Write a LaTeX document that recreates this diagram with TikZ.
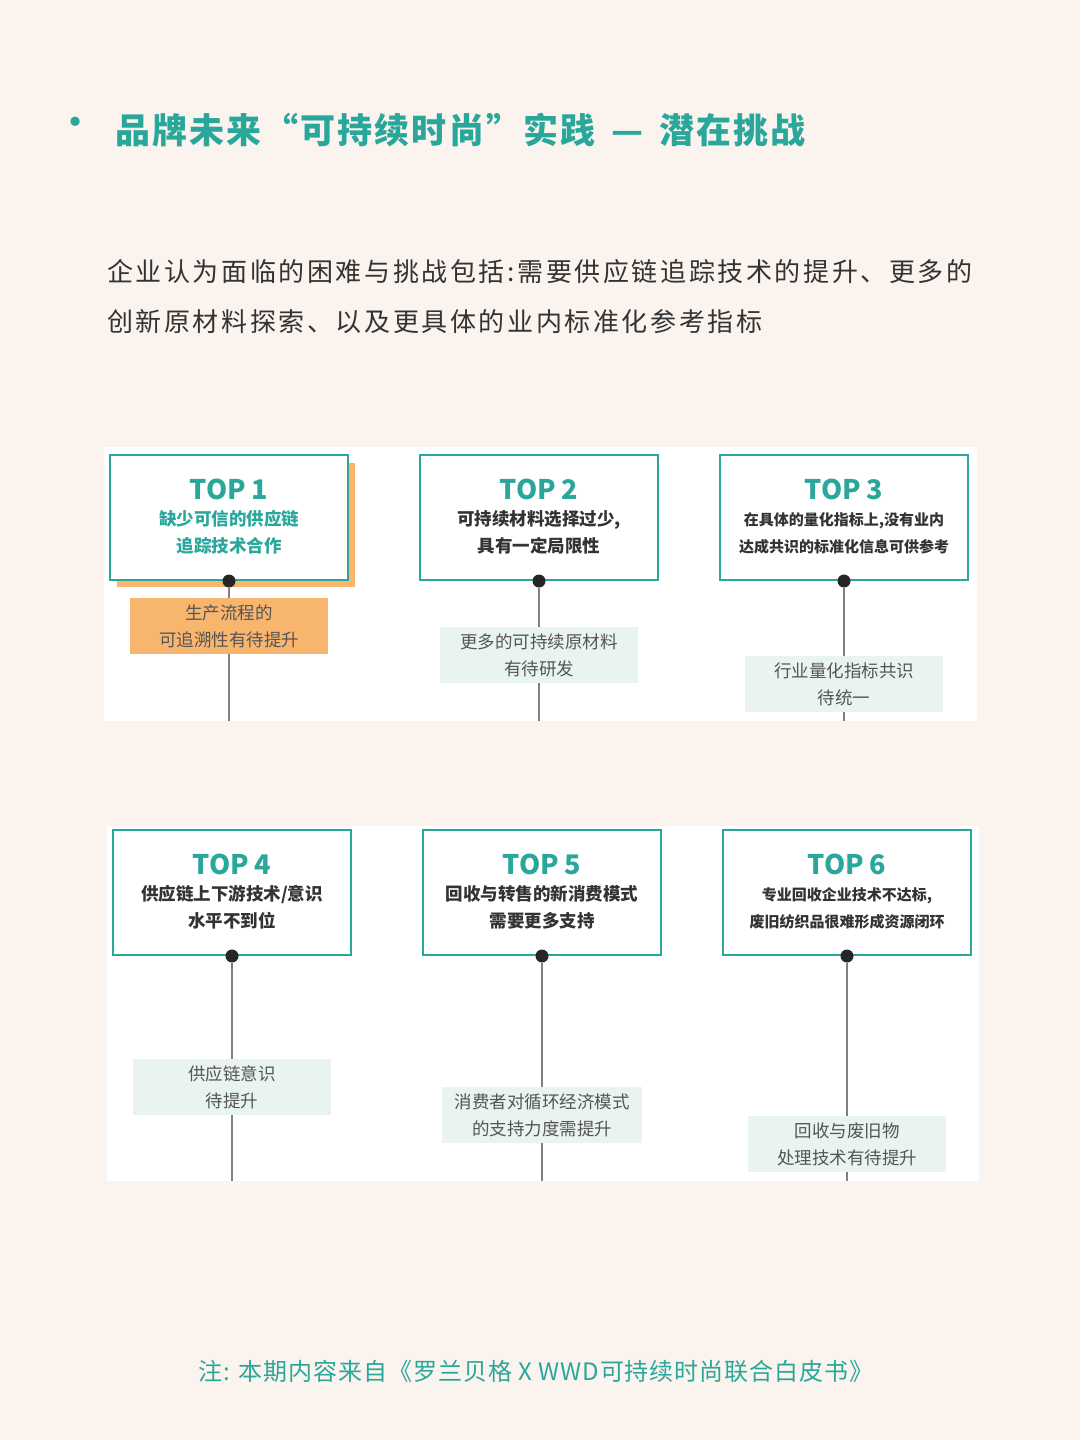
\documentclass[tikz,border=0pt]{standalone}
\usepackage{fontspec}
\setmainfont{Noto Sans CJK SC}
\definecolor{bg}{HTML}{FBF3EE}
\definecolor{teal}{HTML}{2AA79B}
\definecolor{org}{HTML}{F8B56E}
\definecolor{lt}{HTML}{E9F4F0}
\definecolor{txt}{HTML}{333333}
\definecolor{gr}{HTML}{555555}
\begin{document}
\begin{tikzpicture}[x=1pt,y=-1pt,
  topbox/.style={draw=teal,line width=2pt,fill=white},
  toptitle/.style={text=teal,font=\fontsize{27}{30}\selectfont\bfseries},
  sub/.style={text=txt,font=\fontsize{17.5}{27}\selectfont\bfseries,align=center},
  subs/.style={text=txt,font=\fontsize{15}{27}\selectfont\bfseries,align=center},
  lab/.style={text=gr,font=\fontsize{17.5}{27}\selectfont,align=center},
  dot/.style={circle,fill=black!85,inner sep=0pt,minimum size=13pt},
  vline/.style={draw=gray,line width=1.2pt}]
\fill[bg] (0,0) rectangle (1080,1440);
\useasboundingbox (0,0) rectangle (1080,1440);
\node[text=teal,font=\fontsize{44}{44}\selectfont] (bul) at (75,128) {•};
\node[anchor=west,text=teal,font=\fontsize{35}{40}\selectfont\bfseries\addfontfeature{LetterSpace=6},inner sep=0] (title) at (115,130) {品牌未来“可持续时尚”实践 \,— \,潜在挑战};
\node[anchor=west,text=txt,font=\fontsize{26}{50}\selectfont\addfontfeature{LetterSpace=10},align=left,inner sep=0] (para) at (107,297) {企业认为面临的困难与挑战包括:需要供应链追踪技术的提升、更多的\\创新原材料探索、以及更具体的业内标准化参考指标};
% panels
\fill[white] (104,447) rectangle (977,721);
\fill[white] (107,826) rectangle (979,1181);
% row 1
\fill[org] (117,463) rectangle (355,587);
\foreach \n/\x/\y/\lx/\ly/\lw/\lc in {a/229/721/229/626/198/org, b/539/721/539/655/198/lt, c/844/721/844/684/198/lt,
  d/232/1181/232/1087/198/lt, e/542/1181/542/1115/200/lt, f/847/1181/847/1144/198/lt}{
  \coordinate (e\n) at (\x,\y);
  \node[fill=\lc,minimum width=\lw pt,minimum height=56pt,inner sep=0] (l\n) at (\lx,\ly) {};
}
\node[topbox,minimum width=238pt,minimum height=125pt] (ba) at (229,517.5) {};
\node[topbox,minimum width=238pt,minimum height=125pt] (bb) at (539,517.5) {};
\node[topbox,minimum width=248pt,minimum height=125pt] (bc) at (844,517.5) {};
\node[topbox,minimum width=238pt,minimum height=125pt] (bd) at (232,892.5) {};
\node[topbox,minimum width=238pt,minimum height=125pt] (be) at (542,892.5) {};
\node[topbox,minimum width=248pt,minimum height=125pt] (bf) at (847,892.5) {};
\foreach \n in {a,b,c,d,e,f}{
  \node[dot] (d\n) at (b\n.south) {};
  \draw[vline] (d\n) -- (l\n.north);
  \draw[vline] (l\n.south) -- (e\n);
}
\node[toptitle] at (229,489) {TOP 1};
\node[sub,text=teal] at (229,532) {缺少可信的供应链\\追踪技术合作};
\node[toptitle] at (539,489) {TOP 2};
\node[sub] at (539,532) {可持续材料选择过少,\\具有一定局限性};
\node[toptitle] at (844,489) {TOP 3};
\node[subs] at (844,533) {在具体的量化指标上,没有业内\\达成共识的标准化信息可供参考};
\node[toptitle] at (232,864) {TOP 4};
\node[sub] at (232,907) {供应链上下游技术/意识\\水平不到位};
\node[toptitle] at (542,864) {TOP 5};
\node[sub] at (542,907) {回收与转售的新消费模式\\需要更多支持};
\node[toptitle] at (847,864) {TOP 6};
\node[subs] at (847,908) {专业回收企业技术不达标,\\废旧纺织品很难形成资源闭环};
\node[lab] at (la) {生产流程的\\可追溯性有待提升};
\node[lab] at (lb) {更多的可持续原材料\\有待研发};
\node[lab] at (lc) {行业量化指标共识\\待统一};
\node[lab] at (ld) {供应链意识\\待提升};
\node[lab] at (le) {消费者对循环经济模式\\的支持力度需提升};
\node[lab] at (lf) {回收与废旧物\\处理技术有待提升};
\node[text=teal,font=\fontsize{24}{28}\selectfont\addfontfeature{LetterSpace=4}] (note) at (536,1371) {注: 本期内容来自《罗兰贝格 X WWD可持续时尚联合白皮书》};
\end{tikzpicture}
\end{document}
